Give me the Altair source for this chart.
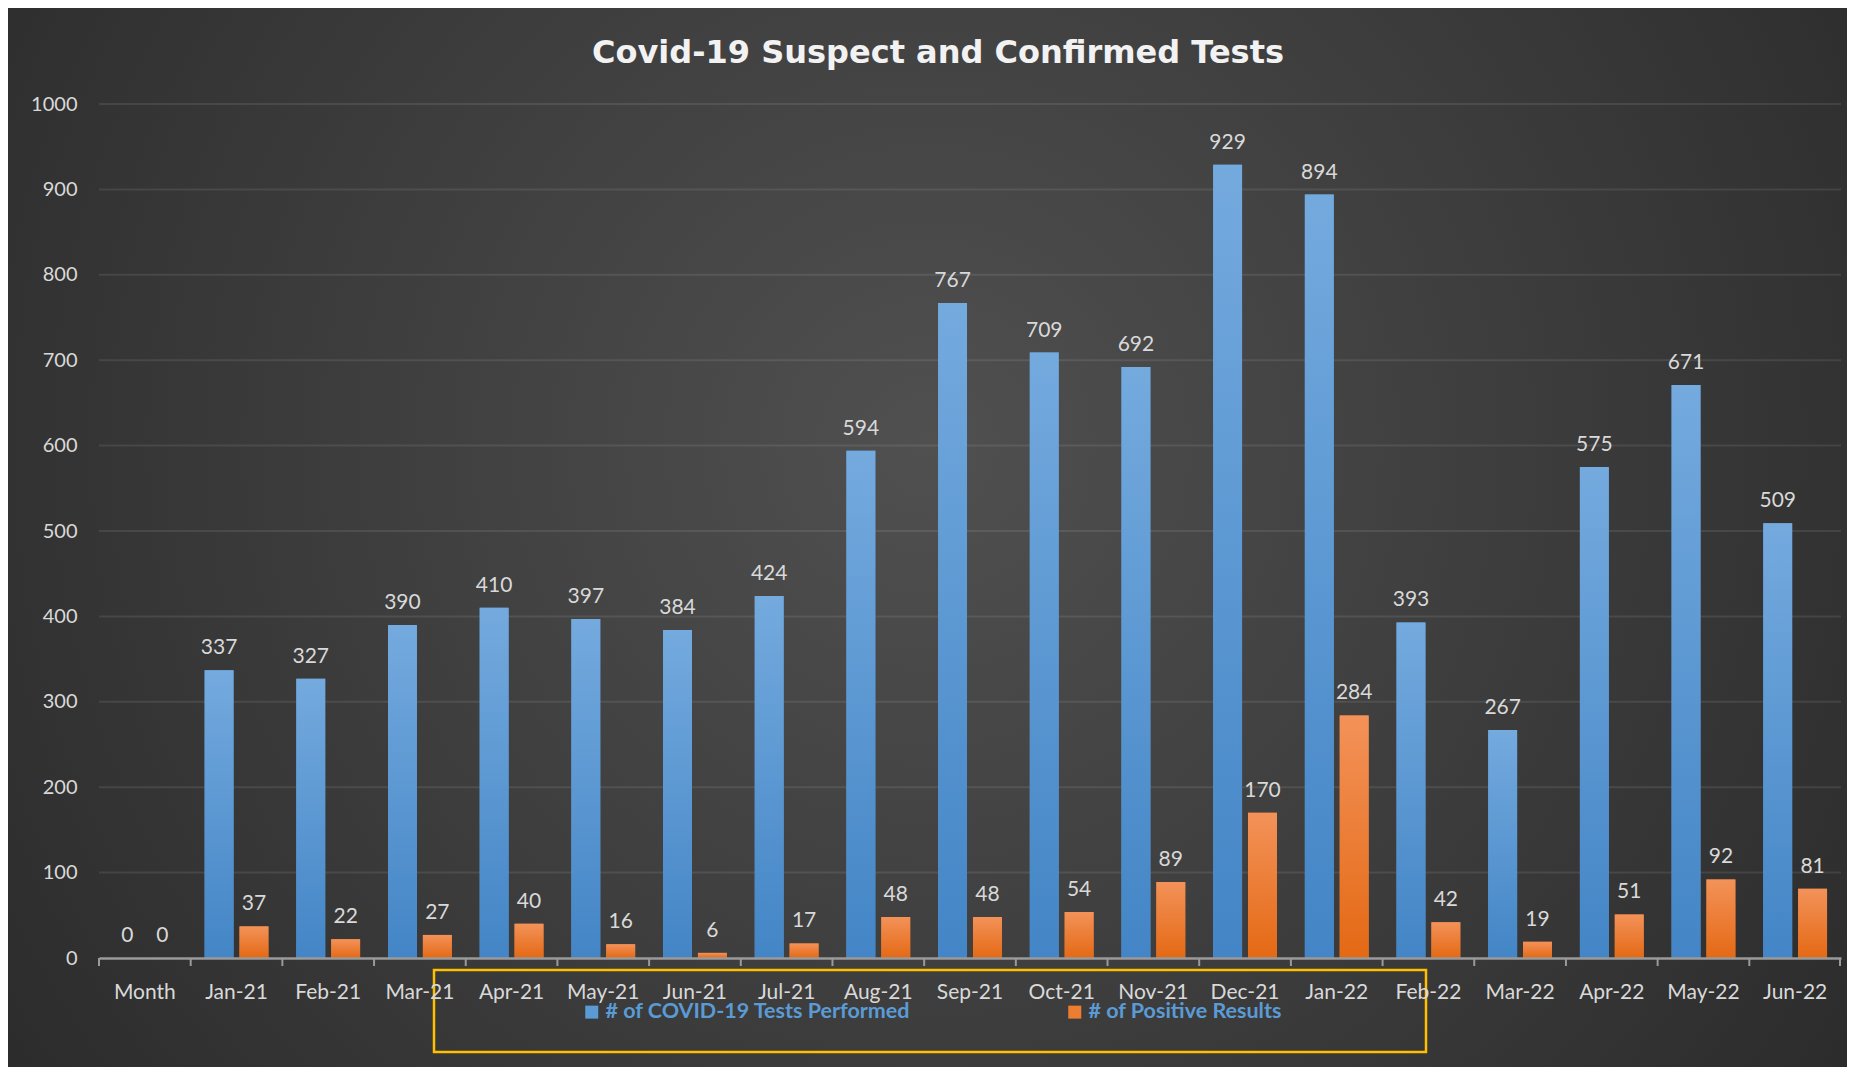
import altair as alt
import pandas as pd

months = ["Month", "Jan-21", "Feb-21", "Mar-21", "Apr-21", "May-21", "Jun-21",
          "Jul-21", "Aug-21", "Sep-21", "Oct-21", "Nov-21", "Dec-21", "Jan-22",
          "Feb-22", "Mar-22", "Apr-22", "May-22", "Jun-22"]
tests = [0, 337, 327, 390, 410, 397, 384, 424, 594, 767, 709, 692, 929, 894,
         393, 267, 575, 671, 509]
positives = [0, 37, 22, 27, 40, 16, 6, 17, 48, 48, 54, 89, 170, 284, 42, 19,
             51, 92, 81]
series_names = ["# of COVID-19 Tests Performed", "# of Positive Results"]
y_ticks = [0, 100, 200, 300, 400, 500, 600, 700, 800, 900, 1000]

W, H = 1742, 854
PAD = {"left": 91, "top": 96, "right": 6, "bottom": 109}

rows = []
for m, t, p in zip(months, tests, positives):
    rows.append({"cat": m, "series": series_names[0], "value": t})
    rows.append({"cat": m, "series": series_names[1], "value": p})
df = pd.DataFrame(rows)
grid_df = pd.DataFrame({"v": y_ticks[1:]})
cat_df = pd.DataFrame({"cat": months})
one = pd.DataFrame({"z": [0]})

FONT = "Lato"
LABEL = "#d9d9d9"
BLUE = "#5b9bd5"
ORANGE = "#ed7d31"

blue_grad = alt.Gradient(gradient="linear", x1=0, y1=0, x2=0, y2=1,
                         stops=[alt.GradientStop(color="#74aade", offset=0),
                                alt.GradientStop(color="#4385c6", offset=1)])
orange_grad = alt.Gradient(gradient="linear", x1=0, y1=0, x2=0, y2=1,
                           stops=[alt.GradientStop(color="#f39259", offset=0),
                                  alt.GradientStop(color="#e46914", offset=1)])
bg_grad = alt.Gradient(gradient="radial", x1=0.5, y1=0.45, r1=0,
                       x2=0.5, y2=0.45, r2=0.75,
                       stops=[alt.GradientStop(color="#505050", offset=0),
                              alt.GradientStop(color="#232323", offset=1)])

x_axis = alt.Axis(title=None, labelFont=FONT, labelFontSize=21, labelColor=LABEL,
                  labelAngle=0, ticks=False, tickSize=0, labelPadding=23,
                  domainColor="#9a9a9a", domainWidth=2.5, grid=False, zindex=1)
y_axis = alt.Axis(title=None, values=y_ticks, format="d", labelFont=FONT,
                  labelFontSize=20, labelColor=LABEL, ticks=False, domain=False,
                  grid=False, labelPadding=22, zindex=1)

x_enc = alt.X("cat:N", sort=months, axis=x_axis,
              scale=alt.Scale(paddingInner=0, paddingOuter=0))
xo_enc = alt.XOffset("series:N", sort=series_names,
                     scale=alt.Scale(domain=series_names, paddingInner=0.1714,
                                     paddingOuter=0.4))
y_enc = alt.Y("value:Q", axis=y_axis, scale=alt.Scale(domain=[0, 1000], nice=False))

background = alt.Chart(one).mark_rect(fill=bg_grad).encode(
    x=alt.value(-PAD["left"]), x2=alt.value(W + PAD["right"]),
    y=alt.value(-PAD["top"]), y2=alt.value(H + PAD["bottom"]))

grid = alt.Chart(grid_df).mark_rule(color="#ffffff", strokeOpacity=0.09,
                                    strokeWidth=2).encode(
    y=alt.Y("v:Q", axis=y_axis, scale=alt.Scale(domain=[0, 1000], nice=False)),
    x=alt.value(0), x2=alt.value(W))

legend_bars = alt.Chart(df).mark_bar().encode(
    x=x_enc, xOffset=xo_enc, y=y_enc,
    color=alt.Color("series:N", sort=series_names,
                    scale=alt.Scale(domain=series_names, range=[BLUE, ORANGE]),
                    legend=alt.Legend(title=None, orient="none", direction="horizontal",
                                      legendX=482, legendY=897, symbolType="square",
                                      symbolSize=169, symbolStrokeWidth=0,
                                      labelFont=FONT, labelFontSize=21.5,
                                      labelFontWeight="bold", labelColor="#5b9bd5",
                                      labelOffset=3, columnPadding=153,
                                      labelLimit=600, padding=0, zindex=1)))

blue_bars = alt.Chart(df).transform_filter(
    alt.datum.series == series_names[0]).mark_bar(fill=blue_grad).encode(
    x=x_enc, xOffset=xo_enc, y=y_enc)
orange_bars = alt.Chart(df).transform_filter(
    alt.datum.series == series_names[1]).mark_bar(fill=orange_grad).encode(
    x=x_enc, xOffset=xo_enc, y=y_enc)

labels = alt.Chart(df).mark_text(font=FONT, fontSize=21, color=LABEL,
                                 baseline="alphabetic", align="center", dy=-16).encode(
    x=x_enc, xOffset=xo_enc, y=y_enc, text=alt.Text("value:Q", format="d"))

ticks = alt.Chart(cat_df).mark_rule(color="#9a9a9a", strokeWidth=2).encode(
    x=alt.X("cat:N", sort=months, axis=x_axis, bandPosition=0,
            scale=alt.Scale(paddingInner=0, paddingOuter=0)),
    y=alt.value(H), y2=alt.value(H + 8))
end_tick = alt.Chart(one).mark_rule(color="#9a9a9a", strokeWidth=2).encode(
    x=alt.value(W - 1), y=alt.value(H), y2=alt.value(H + 8))

box = alt.Chart(one).mark_rect(fill=None, stroke="#ffc000", strokeWidth=2.5).encode(
    x=alt.value(335), x2=alt.value(1327), y=alt.value(866), y2=alt.value(948))

chart = alt.layer(background, grid, legend_bars, blue_bars, orange_bars, labels,
                  ticks, end_tick, box).properties(
    width=W, height=H, padding=PAD,
    autosize=alt.AutoSizeParams(type="none"),
    title=alt.TitleParams("Covid-19 Suspect and Confirmed Tests", font="DejaVu Sans",
                          fontSize=32, fontWeight="bold", color="#f2f2f2",
                          anchor="middle", dx=-32, baseline="alphabetic",
                          offset=-87, zindex=1),
).configure(background="#262626").configure_view(stroke=None)

chart.save("out.html", embed_options={"renderer": "svg", "actions": False})
